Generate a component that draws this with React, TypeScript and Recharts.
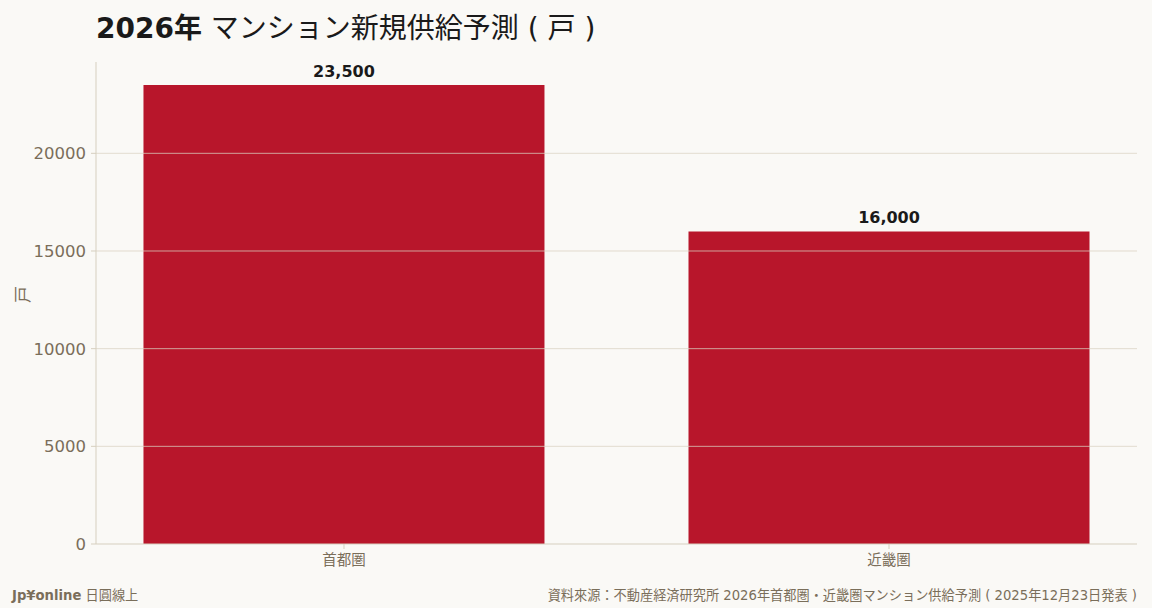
import { BarChart, Bar, XAxis, YAxis, ReferenceLine, LabelList } from 'recharts'

const regions = ['首都圏', '近畿圏']
const supply = [23500, 16000]
const yTicks = [0, 5000, 10000, 15000, 20000]
const gridLines = [5000, 10000, 15000, 20000]

const data = regions.map((r, i) => ({ x: i, name: r, value: supply[i] }))

const FONT = '"DejaVu Sans", "Noto Sans CJK JP", sans-serif'
const MUTED = '#7a6e5a'
const AXIS = '#d6cfbf'

if (typeof document !== 'undefined') document.body.style.margin = '0'

export default function App() {
  return (
    <div style={{ position: 'relative', width: 1152, height: 608, background: '#faf9f6', fontFamily: FONT, overflow: 'hidden' }}>
      <div style={{ position: 'absolute', left: 96, top: 6, fontSize: 28, color: '#1a1a1a', whiteSpace: 'nowrap' }}>
        <span style={{ fontWeight: 700 }}>2026年</span> マンション新規供給予測 ( 戸 )
      </div>
      <BarChart width={1152} height={608} data={data} margin={{ top: 62, right: 15, left: 0, bottom: 0 }} style={{ fontFamily: FONT }}>
        <XAxis
          dataKey="x"
          type="number"
          domain={[-0.455, 1.455]}
          ticks={[0, 1]}
          tickFormatter={(i: number) => regions[i]}
          height={64}
          stroke={AXIS}
          tick={{ fill: MUTED, fontSize: 14.5, fontFamily: FONT }}
          tickSize={5}
          tickMargin={6}
        />
        <YAxis
          domain={[0, 24675]}
          ticks={yTicks}
          width={96}
          stroke={AXIS}
          tick={{ fill: MUTED, fontSize: 16.5, fontFamily: FONT }}
          tickSize={5}
          tickMargin={5}
          label={{ value: '戸', angle: -90, position: 'insideLeft', offset: 23, style: { fill: MUTED, fontSize: 17, fontFamily: FONT } }}
        />
        <Bar dataKey="value" fill="#b8162b" barSize={401} isAnimationActive={false}>
          <LabelList
            dataKey="value"
            position="top"
            offset={8}
            formatter={(v: any) => Number(v).toLocaleString('en-US')}
            style={{ fill: '#1a1a1a', fontSize: 16, fontWeight: 700, fontFamily: FONT }}
          />
        </Bar>
        {gridLines.map(v => (
          <ReferenceLine key={v} y={v} stroke="#d9d2c2" strokeOpacity={0.75} />
        ))}
      </BarChart>
      <div style={{ position: 'absolute', left: 12, top: 585, fontSize: 13.2, color: MUTED, whiteSpace: 'nowrap' }}>
        <span style={{ fontWeight: 700 }}>Jp¥online</span> 日圓線上
      </div>
      <div style={{ position: 'absolute', right: 15, top: 585, fontSize: 13.2, color: MUTED, whiteSpace: 'nowrap' }}>
        資料來源：不動産経済研究所 2026年首都圏・近畿圏マンション供給予測 ( 2025年12月23日発表 )
      </div>
    </div>
  )
}
